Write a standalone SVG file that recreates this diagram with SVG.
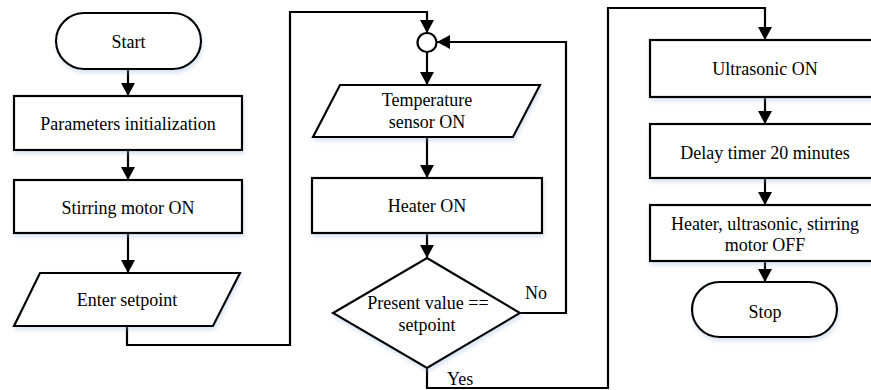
<svg xmlns="http://www.w3.org/2000/svg" width="871" height="390" viewBox="0 0 871 390">
  <defs>
    <marker id="arrow" markerUnits="userSpaceOnUse" markerWidth="16" markerHeight="16" viewBox="0 0 16 16" refX="14" refY="8" orient="auto">
      <path d="M1,1 L14,8 L1,15 Z" fill="#000"/>
    </marker>
    <filter id="shadow" x="-10%" y="-20%" width="120%" height="150%">
      <feGaussianBlur in="SourceAlpha" stdDeviation="2"/>
      <feOffset dx="1" dy="3" result="b"/>
      <feFlood flood-color="#8fb0d8" flood-opacity="0.35"/>
      <feComposite in2="b" operator="in"/>
      <feMerge><feMergeNode/><feMergeNode in="SourceGraphic"/></feMerge>
    </filter>
  </defs>
  <style>
    .shape { fill: #fff; stroke: #000; stroke-width: 2.2; filter: url(#shadow); }
    .conn { fill: none; stroke: #000; stroke-width: 2.2; }
    .arr { marker-end: url(#arrow); }
    text { font-family: 'Liberation Serif', 'Times New Roman', serif; font-size: 18px; fill: #000; }
    .c { text-anchor: middle; }
  </style>
  <rect width="871" height="390" fill="#fff"/>

  <g id="connectors">
    <path class="conn arr" d="M128,69 V96"/>
    <path class="conn arr" d="M128,150 V180"/>
    <path class="conn arr" d="M128,233 V273"/>
    <path class="conn arr" d="M127,326 V345 H290 V12 H427 V33"/>
    <path class="conn arr" d="M427,52 V85"/>
    <path class="conn arr" d="M427,137 V178"/>
    <path class="conn arr" d="M427,233 V258"/>
    <path class="conn arr" d="M520,313 H566 V42 H437"/>
    <path class="conn arr" d="M427,368 V388 H608 V8 H765 V40"/>
    <path class="conn arr" d="M765,97 V124"/>
    <path class="conn arr" d="M765,178 V205"/>
    <path class="conn arr" d="M765,261 V282"/>
    <text x="525" y="299">No</text>
    <text x="447" y="385">Yes</text>
  </g>

  <g id="start">
    <rect class="shape" x="56" y="13" width="145" height="56" rx="28" ry="28"/>
    <text class="c" x="128.5" y="47.5">Start</text>
  </g>
  <g id="params">
    <rect class="shape" x="14" y="96" width="228" height="54"/>
    <text class="c" x="128" y="130">Parameters initialization</text>
  </g>
  <g id="stirring">
    <rect class="shape" x="14" y="180" width="228" height="53"/>
    <text class="c" x="128" y="213.5">Stirring motor ON</text>
  </g>
  <g id="setpoint">
    <polygon class="shape" points="40,273 240,273 213,326 14,326"/>
    <text class="c" x="127" y="306">Enter setpoint</text>
  </g>

  <g id="junction">
    <circle class="conn" cx="427" cy="42.5" r="9.5" fill="#fff"/>
  </g>
  <g id="temp-sensor">
    <polygon class="shape" points="340,85 540,85 513,137 313,137"/>
    <text class="c" x="427" y="106">Temperature</text>
    <text class="c" x="427" y="128">sensor ON</text>
  </g>
  <g id="heater">
    <rect class="shape" x="312" y="178" width="230" height="55"/>
    <text class="c" x="427" y="211.5">Heater ON</text>
  </g>
  <g id="decision">
    <polygon class="shape" points="427,258 520,313 427,368 333,313"/>
    <text class="c" x="428" y="309">Present value ==</text>
    <text class="c" x="427" y="330.5">setpoint</text>
  </g>

  <g id="ultrasonic">
    <rect class="shape" x="650" y="40" width="230" height="57"/>
    <text class="c" x="765" y="75">Ultrasonic ON</text>
  </g>
  <g id="delay">
    <rect class="shape" x="650" y="124" width="230" height="54"/>
    <text class="c" x="765" y="159">Delay timer 20 minutes</text>
  </g>
  <g id="all-off">
    <rect class="shape" x="650" y="205" width="230" height="56"/>
    <text class="c" x="765" y="230">Heater, ultrasonic, stirring</text>
    <text class="c" x="765" y="251">motor OFF</text>
  </g>
  <g id="stop">
    <rect class="shape" x="692" y="282" width="145" height="55" rx="27.5" ry="27.5"/>
    <text class="c" x="765" y="317.5">Stop</text>
  </g>
</svg>
